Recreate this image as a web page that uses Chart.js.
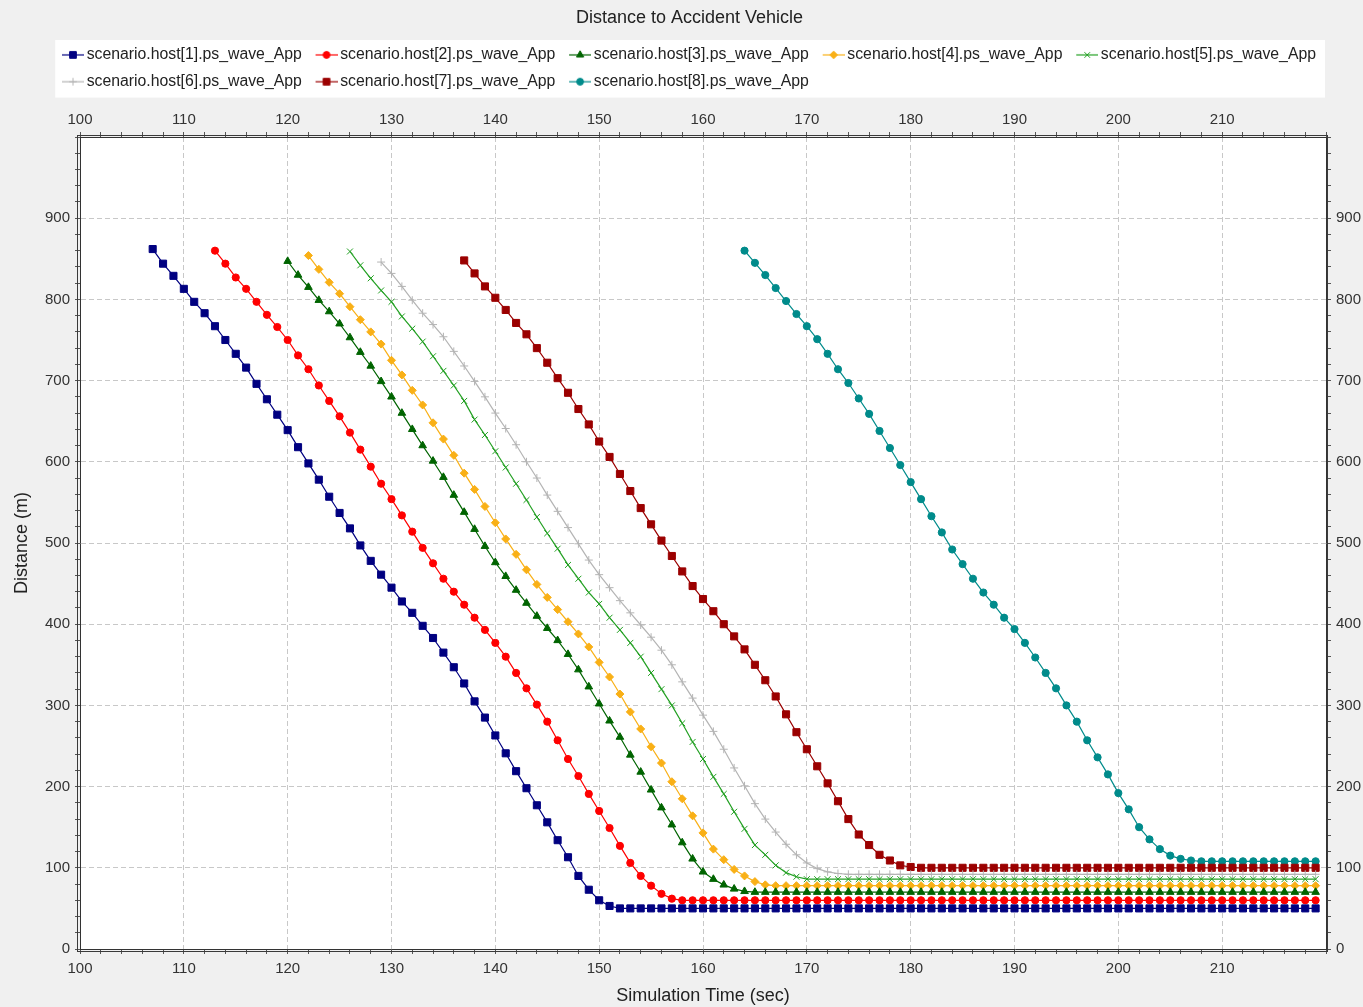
<!DOCTYPE html>
<html>
<head>
<meta charset="utf-8">
<title>Distance to Accident Vehicle</title>
<script src="https://cdn.jsdelivr.net/npm/chart.js@4.4.1/dist/chart.umd.min.js"></script>
<style>
  html, body { margin: 0; padding: 0; background: #f0f0f0; }
  #wrap { position: relative; width: 1363px; height: 1007px; }
</style>
</head>
<body>
<div id="wrap"><canvas id="chart"></canvas></div>
<script>
// Distance (m) to the accident vehicle, one sample per simulation second,
// starting at the first second each host reports.
const seriesLabels = [
  'scenario.host[1].ps_wave_App', 'scenario.host[2].ps_wave_App',
  'scenario.host[3].ps_wave_App', 'scenario.host[4].ps_wave_App',
  'scenario.host[5].ps_wave_App', 'scenario.host[6].ps_wave_App',
  'scenario.host[7].ps_wave_App', 'scenario.host[8].ps_wave_App'
];
const seriesStarts = [107, 113, 120, 122, 126, 129, 137, 164];

const host1 = [
  862, 844, 829, 813, 797, 783, 767, 750, 733, 716,
  696, 677, 658, 639, 618, 598, 578, 557, 537, 518,
  497, 478, 461, 445, 428, 414, 398, 383, 365, 347,
  327, 305, 285, 263, 241, 219, 198, 177, 156, 134,
  113, 90, 73, 60, 53, 50, 50, 50, 50, 50,
  50, 50, 50, 50, 50, 50, 50, 50, 50, 50,
  50, 50, 50, 50, 50, 50, 50, 50, 50, 50,
  50, 50, 50, 50, 50, 50, 50, 50, 50, 50,
  50, 50, 50, 50, 50, 50, 50, 50, 50, 50,
  50, 50, 50, 50, 50, 50, 50, 50, 50, 50,
  50, 50, 50, 50, 50, 50, 50, 50, 50, 50,
  50, 50, 50
];
const host2 = [
  860, 844, 827, 813, 797, 781, 766, 750, 731, 714,
  694, 675, 656, 636, 615, 594, 573, 554, 534, 514,
  494, 475, 456, 440, 424, 408, 393, 377, 360, 340,
  321, 301, 280, 257, 234, 213, 191, 170, 149, 127,
  106, 90, 78, 68, 62, 60, 60, 60, 60, 60,
  60, 60, 60, 60, 60, 60, 60, 60, 60, 60,
  60, 60, 60, 60, 60, 60, 60, 60, 60, 60,
  60, 60, 60, 60, 60, 60, 60, 60, 60, 60,
  60, 60, 60, 60, 60, 60, 60, 60, 60, 60,
  60, 60, 60, 60, 60, 60, 60, 60, 60, 60,
  60, 60, 60, 60, 60, 60, 60
];
const host3 = [
  847, 830, 815, 799, 785, 770, 753, 735, 718, 699,
  680, 660, 640, 620, 601, 581, 559, 538, 517, 496,
  476, 459, 442, 426, 410, 395, 380, 363, 344, 323,
  302, 281, 261, 239, 218, 196, 174, 153, 131, 111,
  95, 86, 79, 74, 71, 70, 70, 70, 70, 70,
  70, 70, 70, 70, 70, 70, 70, 70, 70, 70,
  70, 70, 70, 70, 70, 70, 70, 70, 70, 70,
  70, 70, 70, 70, 70, 70, 70, 70, 70, 70,
  70, 70, 70, 70, 70, 70, 70, 70, 70, 70,
  70, 70, 70, 70, 70, 70, 70, 70, 70, 70
];
const host4 = [
  854, 837, 821, 807, 791, 775, 760, 745, 725, 707,
  688, 670, 648, 628, 608, 586, 566, 545, 525, 505,
  486, 467, 449, 433, 418, 403, 388, 372, 353, 335,
  314, 292, 271, 249, 229, 206, 185, 164, 143, 123,
  110, 98, 90, 83, 79, 78, 78, 78, 78, 78,
  78, 78, 78, 78, 78, 78, 78, 78, 78, 78,
  78, 78, 78, 78, 78, 78, 78, 78, 78, 78,
  78, 78, 78, 78, 78, 78, 78, 78, 78, 78,
  78, 78, 78, 78, 78, 78, 78, 78, 78, 78,
  78, 78, 78, 78, 78, 78, 78, 78
];
const host5 = [
  859, 842, 826, 811, 797, 779, 764, 748, 730, 712,
  694, 675, 652, 633, 613, 593, 573, 553, 532, 512,
  493, 473, 456, 439, 425, 408, 393, 377, 360, 340,
  320, 300, 278, 255, 234, 212, 191, 169, 148, 128,
  116, 103, 94, 89, 86, 86, 86, 86, 86, 86,
  86, 86, 86, 86, 86, 86, 86, 86, 86, 86,
  86, 86, 86, 86, 86, 86, 86, 86, 86, 86,
  86, 86, 86, 86, 86, 86, 86, 86, 86, 86,
  86, 86, 86, 86, 86, 86, 86, 86, 86, 86,
  86, 86, 86, 86
];
const host6 = [
  846, 832, 816, 799, 783, 769, 754, 736, 718, 699,
  680, 660, 641, 621, 600, 580, 559, 539, 519, 499,
  479, 461, 445, 429, 414, 399, 384, 368, 350, 329,
  309, 288, 268, 246, 223, 201, 179, 160, 144, 129,
  116, 106, 99, 95, 93, 92, 92, 92, 92, 92,
  92, 92, 92, 92, 92, 92, 92, 92, 92, 92,
  92, 92, 92, 92, 92, 92, 92, 92, 92, 92,
  92, 92, 92, 92, 92, 92, 92, 92, 92, 92,
  92, 92, 92, 92, 92, 92, 92, 92, 92, 92,
  92
];
const host7 = [
  848, 832, 816, 802, 787, 771, 757, 740, 722, 703,
  685, 665, 646, 625, 606, 585, 564, 543, 523, 503,
  484, 465, 447, 431, 416, 400, 385, 369, 350, 331,
  311, 289, 267, 246, 225, 204, 182, 160, 141, 128,
  116, 109, 103, 101, 100, 100, 100, 100, 100, 100,
  100, 100, 100, 100, 100, 100, 100, 100, 100, 100,
  100, 100, 100, 100, 100, 100, 100, 100, 100, 100,
  100, 100, 100, 100, 100, 100, 100, 100, 100, 100,
  100, 100, 100
];
const host8 = [
  860, 845, 830, 814, 798, 782, 767, 751, 733, 714,
  697, 678, 659, 638, 617, 596, 575, 554, 533, 513,
  492, 474, 456, 439, 424, 408, 394, 377, 359, 340,
  321, 300, 280, 257, 236, 215, 192, 172, 150, 135,
  123, 115, 111, 109, 108, 108, 108, 108, 108, 108,
  108, 108, 108, 108, 108, 108
];
const seriesValues = [host1, host2, host3, host4, host5, host6, host7, host8];

// axis ranges and labelled ticks
const xRange = [100, 220];
const yRange = [0, 1000];
const xTickLabels = [100, 110, 120, 130, 140, 150, 160, 170, 180, 190, 200, 210];
const yTickLabels = [0, 100, 200, 300, 400, 500, 600, 700, 800, 900];
const xMinorStep = 2;
const yMinorStep = 20;

// series appearance
const seriesColors = ['#000080', '#ff0000', '#006400', '#f9b016',
                      '#22a022', '#b4b4b4', '#9b0000', '#008b8b'];
const seriesMarkers = ['rect', 'circle', 'triangle', 'rectRot',
                       'crossRot', 'cross', 'rect', 'circle'];
const markerRadius = [5, 3.6, 4.4, 4, 4.2, 4, 5, 3.6];

const FONT = "'Liberation Sans', Arial, Helvetica, sans-serif";
Chart.defaults.font.family = FONT;
Chart.defaults.color = '#222';

// a small line-with-marker swatch for each legend entry
function legendIcon(color, style, radius) {
  const c = document.createElement('canvas');
  c.width = 30; c.height = 14;
  const g = c.getContext('2d');
  g.strokeStyle = color; g.fillStyle = color; g.lineWidth = 1.2;
  g.beginPath(); g.moveTo(8, 7); g.lineTo(30, 7); g.stroke();
  g.lineWidth = 1;
  Chart.helpers.drawPoint(g, { pointStyle: style, radius: radius, borderWidth: 1, rotation: 0 }, 19, 7);
  return c;
}
const legendIcons = seriesColors.map((c, i) => legendIcon(c, seriesMarkers[i], markerRadius[i] * 0.95));

const datasets = seriesValues.map((vals, i) => ({
  label: seriesLabels[i],
  data: vals.map((d, k) => ({ x: seriesStarts[i] + k, y: d })),
  borderColor: seriesColors[i],
  backgroundColor: seriesColors[i],
  borderWidth: 1.2,
  pointStyle: seriesMarkers[i],
  pointRadius: markerRadius[i],
  pointBorderWidth: 1,
  pointBackgroundColor: seriesColors[i],
  pointBorderColor: seriesColors[i],
  tension: 0,
  fill: false
}));

function stepTicks(from, to, step) {
  const out = [];
  for (let v = from; v <= to + 1e-9; v += step) out.push({ value: v });
  return out;
}

const GRID = '#c8c8c8';
const NONE = 'rgba(0,0,0,0)';
const TICK_FONT = { size: 15 };

function xAxis(position, onArea, pad) {
  return {
    type: 'linear', position: position,
    min: xRange[0], max: xRange[1],
    afterBuildTicks: s => { s.ticks = stepTicks(xRange[0], xRange[1], xMinorStep); },
    ticks: {
      autoSkip: false, maxRotation: 0, padding: pad, font: TICK_FONT, color: '#333',
      callback: v => xTickLabels.includes(v) ? String(v) : ''
    },
    grid: {
      display: true, drawOnChartArea: onArea, drawTicks: true, tickLength: 5,
      lineWidth: 1, tickWidth: 1, tickColor: '#555',
      color: ctx => (ctx.tick && xTickLabels.includes(ctx.tick.value)) ? GRID : NONE
    },
    border: { display: true, color: '#333', width: 1, dash: [5, 3] }
  };
}
function yAxis(position, onArea) {
  return {
    type: 'linear', position: position,
    min: yRange[0], max: yRange[1],
    afterBuildTicks: s => { s.ticks = stepTicks(yRange[0], yRange[1], yMinorStep); },
    ticks: {
      autoSkip: false, padding: 5, font: TICK_FONT, color: '#333',
      callback: v => yTickLabels.includes(v) ? String(v) : ''
    },
    grid: {
      display: true, drawOnChartArea: onArea, drawTicks: true, tickLength: 5,
      lineWidth: 1, tickWidth: 1, tickColor: '#555',
      color: ctx => (ctx.tick && yTickLabels.includes(ctx.tick.value)) ? GRID : NONE
    },
    border: { display: true, color: '#333', width: 1, dash: [5, 3] }
  };
}

const xBottom = xAxis('bottom', true, 6);
xBottom.title = { display: true, text: 'Simulation Time (sec)', font: { size: 18 },
                  color: '#222', padding: { top: 0, bottom: 0.5 } };
xBottom.afterFit = s => { s.height = 58; };

const xTop = xAxis('top', false, 3);
xTop.afterFit = s => {
  const used = (s.chart.titleBlock ? s.chart.titleBlock.height : 0) + (s.chart.legend ? s.chart.legend.height : 0);
  s.height = 137 - used;
};

const yLeft = yAxis('left', true);
yLeft.title = { display: true, text: 'Distance (m)', font: { size: 18 },
                color: '#222', padding: { top: 11.2, bottom: 0 } };
yLeft.afterFit = s => { s.width = 80; };

const yRight = yAxis('right', false);
yRight.afterFit = s => { s.width = 37; };

// canvas, plot and legend backgrounds; legend and title placement; plot frame
const backdrop = {
  id: 'backdrop',
  afterLayout(chart) {
    const lg = chart.legend;
    if (lg) { lg.left += 48.25; }
    const tb = chart.titleBlock;
    if (tb) { tb.left += 8; tb.right += 8; }
  },
  beforeDraw(chart) {
    const { ctx, chartArea: a } = chart;
    ctx.save();
    ctx.fillStyle = '#f0f0f0';
    ctx.fillRect(0, 0, chart.width, chart.height);
    ctx.fillStyle = '#ffffff';
    ctx.fillRect(a.left, a.top, a.right - a.left, a.bottom - a.top);
    const lg = chart.legend;
    if (lg) {
      const x0 = lg.left + 7;
      ctx.fillRect(x0, lg.top + 4, a.right - 1 - x0, lg.bottom - lg.top - 6);
    }
    ctx.restore();
  },
  beforeDatasetsDraw(chart) {
    const { ctx, chartArea: a } = chart;
    ctx.save();
    ctx.strokeStyle = '#3a3a3a';
    ctx.lineWidth = 1;
    ctx.strokeRect(Math.round(a.left) - 2.5, Math.round(a.top) - 1.5,
                   Math.round(a.right - a.left) + 4, Math.round(a.bottom - a.top) + 4);
    ctx.restore();
  }
};

new Chart(document.getElementById('chart'), {
  type: 'line',
  data: { datasets: datasets },
  options: {
    responsive: true,
    maintainAspectRatio: false,
    animation: false,
    layout: { padding: 0 },
    interaction: { mode: 'nearest', intersect: true },
    scales: { x: xBottom, x2: xTop, y: yLeft, y2: yRight },
    plugins: {
      title: {
        display: true, text: 'Distance to Accident Vehicle',
        font: { size: 18, weight: 'normal', lineHeight: 1 },
        color: '#222', padding: { top: 9, bottom: 9 }
      },
      legend: {
        display: true, position: 'top', align: 'start',
        labels: {
          usePointStyle: true, pointStyleWidth: 19.5, padding: 11,
          font: { size: 15.8 }, color: '#222',
          generateLabels: chart => chart.data.datasets.map((ds, i) => ({
            text: ds.label, pointStyle: legendIcons[i], fillStyle: ds.borderColor,
            strokeStyle: ds.borderColor, lineWidth: 0, hidden: false,
            datasetIndex: i, fontColor: '#222'
          }))
        }
      },
      tooltip: { enabled: false }
    }
  },
  plugins: [backdrop]
});
</script>
</body>
</html>
